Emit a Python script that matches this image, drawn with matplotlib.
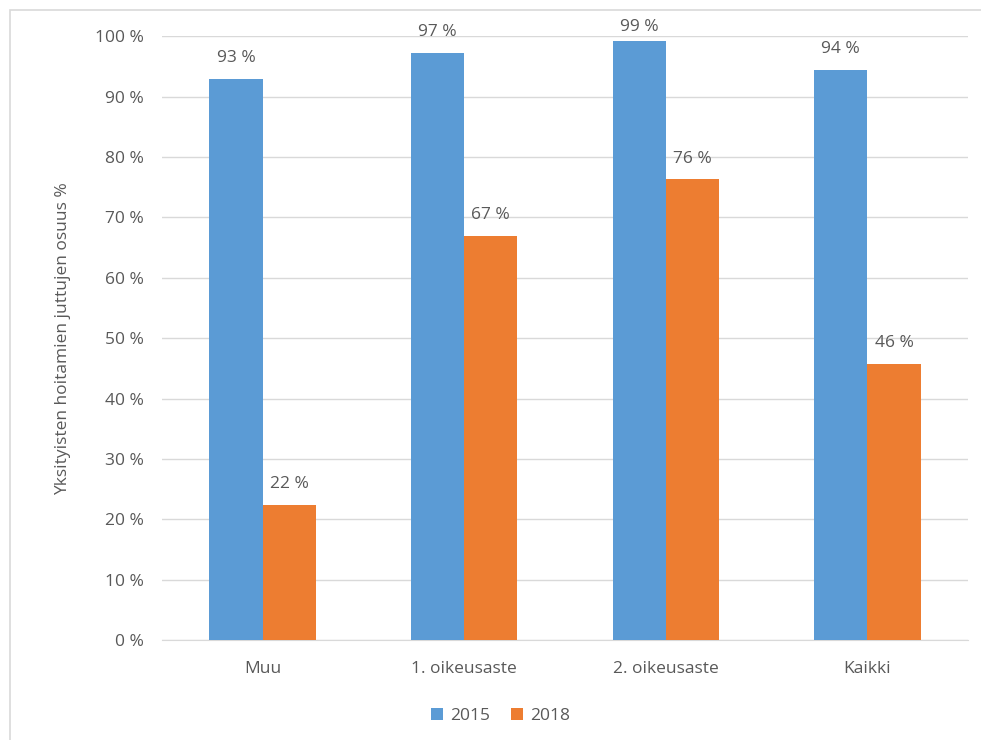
import matplotlib.pyplot as plt
import numpy as np
from matplotlib.patches import Rectangle

# data
kategoriat = ['Muu', '1. oikeusaste', '2. oikeusaste', 'Kaikki']
arvot_2015 = [93.0, 97.2, 99.2, 94.4]
arvot_2018 = [22.4, 66.9, 76.3, 45.8]
vuodet = ['2015', '2018']

sininen = '#5B9BD5'
oranssi = '#ED7D31'
harmaa = '#595959'

plt.rcParams['font.family'] = ['Open Sans', 'DejaVu Sans']

fig = plt.figure(figsize=(9.81, 7.4), dpi=100)
ax = fig.add_axes([0.165, 0.135, 0.822, 0.816])

# kehys
fig.patches.append(Rectangle((10 / 981, -0.01), 1.0, (730 / 740) + 0.01,
                             transform=fig.transFigure, fill=False,
                             edgecolor='#d9d9d9', linewidth=1.2))

x = np.arange(len(kategoriat))
w = 0.264
b1 = ax.bar(x - w / 2, arvot_2015, w, color=sininen, label=vuodet[0], zorder=3)
b2 = ax.bar(x + w / 2, arvot_2018, w, color=oranssi, label=vuodet[1], zorder=3)

fs = 12.5
for bars in (b1, b2):
    for r in bars:
        # excel painaa ylimmän tunnisteen alas
        y = min(r.get_height() + 2.1, 100.2)
        ax.text(r.get_x() + r.get_width() / 2, y,
                '%d %%' % round(r.get_height()), ha='center', va='bottom',
                fontsize=fs, color=harmaa)

ax.set_xlim(-0.5, 3.5)
ax.set_ylim(0, 100)
ax.set_yticks(range(0, 101, 10))
ax.set_yticklabels(['%d %%' % v for v in range(0, 101, 10)])
ax.set_xticks(x)
ax.set_xticklabels(kategoriat)
ax.grid(axis='y', color='#d9d9d9', linewidth=1, zorder=0)
for s in ['top', 'right', 'left']:
    ax.spines[s].set_visible(False)
ax.spines['bottom'].set_color('#d9d9d9')
ax.tick_params(axis='both', length=0, colors=harmaa, labelsize=fs)
ax.tick_params(axis='y', pad=13)
ax.tick_params(axis='x', pad=15)
ax.set_ylabel('Yksityisten hoitamien juttujen osuus %', color=harmaa,
              fontsize=fs, labelpad=17)

ax.legend(loc='center', bbox_to_anchor=(0.42, -0.125), ncol=2, frameon=False,
          fontsize=fs, handlelength=0.7, handleheight=0.7, columnspacing=1.2,
          handletextpad=0.4, labelcolor=harmaa)

fig.savefig('out.png', dpi=100)
